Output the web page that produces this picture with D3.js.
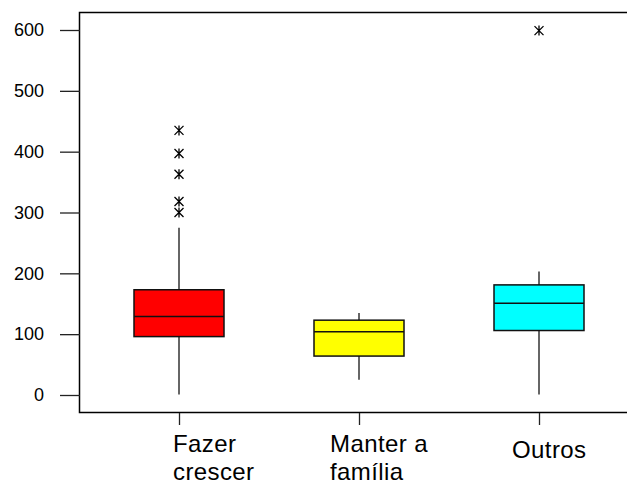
<!DOCTYPE html>
<html>
<head>
<meta charset="utf-8">
<script src="https://cdn.jsdelivr.net/npm/d3@7"></script>
<style>
  body { margin: 0; background: #fff; }
  svg { display: block; font-family: "Liberation Sans", Arial, sans-serif; }
</style>
</head>
<body>
<div id="chart"></div>
<script>
// data
var categories = ["Fazer crescer", "Manter a família", "Outros"];
var labelLines = [["Fazer", "crescer"], ["Manter a", "família"], ["Outros"]];
var whiskerLow = [1, 25, 1];
var q1 = [96, 64, 106];
var median = [129, 104, 151];
var q3 = [173, 123, 181];
var whiskerHigh = [275, 135, 203];
var outliers = [[300, 318, 363, 397, 435], [], [599]];
var fills = ["#ff0000", "#ffff00", "#00ffff"];
var yTicks = [0, 100, 200, 300, 400, 500, 600];

var width = 627, height = 489;

var svg = d3.select("#chart").append("svg")
    .attr("width", width)
    .attr("height", height);

var y = d3.scaleLinear().domain([0, 600]).range([395, 30]);
var x = d3.scalePoint().domain(categories).range([179, 539]);
var boxW = 90;

// frame (right side runs off the picture)
svg.append("rect")
    .attr("x", 79.5).attr("y", 12.5)
    .attr("width", 600).attr("height", 400)
    .attr("fill", "none").attr("stroke", "#000").attr("stroke-width", 1.5);

// y axis
var yAxis = d3.axisLeft(y).tickValues(yTicks).tickSize(20).tickPadding(16);
var gy = svg.append("g").attr("transform", "translate(80,0)").call(yAxis);
gy.select(".domain").remove();
gy.selectAll(".tick line").attr("stroke", "#222").attr("stroke-width", 1.3);
gy.selectAll(".tick text").attr("font-size", 18).attr("fill", "#000")
    .attr("font-family", "'Liberation Sans', Arial, sans-serif");

// x ticks
var xAxis = d3.axisBottom(x).tickSize(12).tickFormat("");
var gx = svg.append("g").attr("transform", "translate(0,413)").call(xAxis);
gx.select(".domain").remove();
gx.selectAll(".tick line").attr("stroke", "#222").attr("stroke-width", 1.3);

// category labels
var labelDx = [-6, -29, -27];
categories.forEach(function(c, i) {
    var t = svg.append("text")
        .attr("x", x(c) + labelDx[i])
        .attr("font-size", 24)
        .attr("letter-spacing", 0.4)
        .attr("fill", "#000");
    var lines = labelLines[i];
    lines.forEach(function(l, j) {
        t.append("tspan")
            .attr("x", x(c) + labelDx[i])
            .attr("y", lines.length == 1 ? 458 : 452 + j * 28)
            .text(l);
    });
});

// boxes
var boxes = svg.selectAll(".box")
    .data(categories)
    .enter().append("g")
    .attr("class", "box");

boxes.append("line")
    .attr("x1", function(d) { return x(d); })
    .attr("x2", function(d) { return x(d); })
    .attr("y1", function(d, i) { return y(whiskerLow[i]); })
    .attr("y2", function(d, i) { return y(q1[i]); })
    .attr("stroke", "#333").attr("stroke-width", 1.5);

boxes.append("line")
    .attr("x1", function(d) { return x(d); })
    .attr("x2", function(d) { return x(d); })
    .attr("y1", function(d, i) { return y(q3[i]); })
    .attr("y2", function(d, i) { return y(whiskerHigh[i]); })
    .attr("stroke", "#333").attr("stroke-width", 1.5);

boxes.append("rect")
    .attr("x", function(d) { return x(d) - boxW / 2; })
    .attr("y", function(d, i) { return y(q3[i]); })
    .attr("width", boxW)
    .attr("height", function(d, i) { return y(q1[i]) - y(q3[i]); })
    .attr("fill", function(d, i) { return fills[i]; })
    .attr("stroke", "#111").attr("stroke-width", 1.5);

boxes.append("line")
    .attr("x1", function(d) { return x(d) - boxW / 2; })
    .attr("x2", function(d) { return x(d) + boxW / 2; })
    .attr("y1", function(d, i) { return y(median[i]); })
    .attr("y2", function(d, i) { return y(median[i]); })
    .attr("stroke", "#111").attr("stroke-width", 1.5);

// outliers as asterisks
var star = "M-4.5,-4.5L4.5,4.5M-4.5,4.5L4.5,-4.5M0,-5L0,5";
categories.forEach(function(c, i) {
    svg.selectAll(".out" + i)
        .data(outliers[i])
        .enter().append("path")
        .attr("class", "out" + i)
        .attr("d", star)
        .attr("transform", function(v) { return "translate(" + x(c) + "," + y(v) + ")"; })
        .attr("stroke", "#000").attr("stroke-width", 1.3)
        .attr("fill", "none");
});
</script>
</body>
</html>
